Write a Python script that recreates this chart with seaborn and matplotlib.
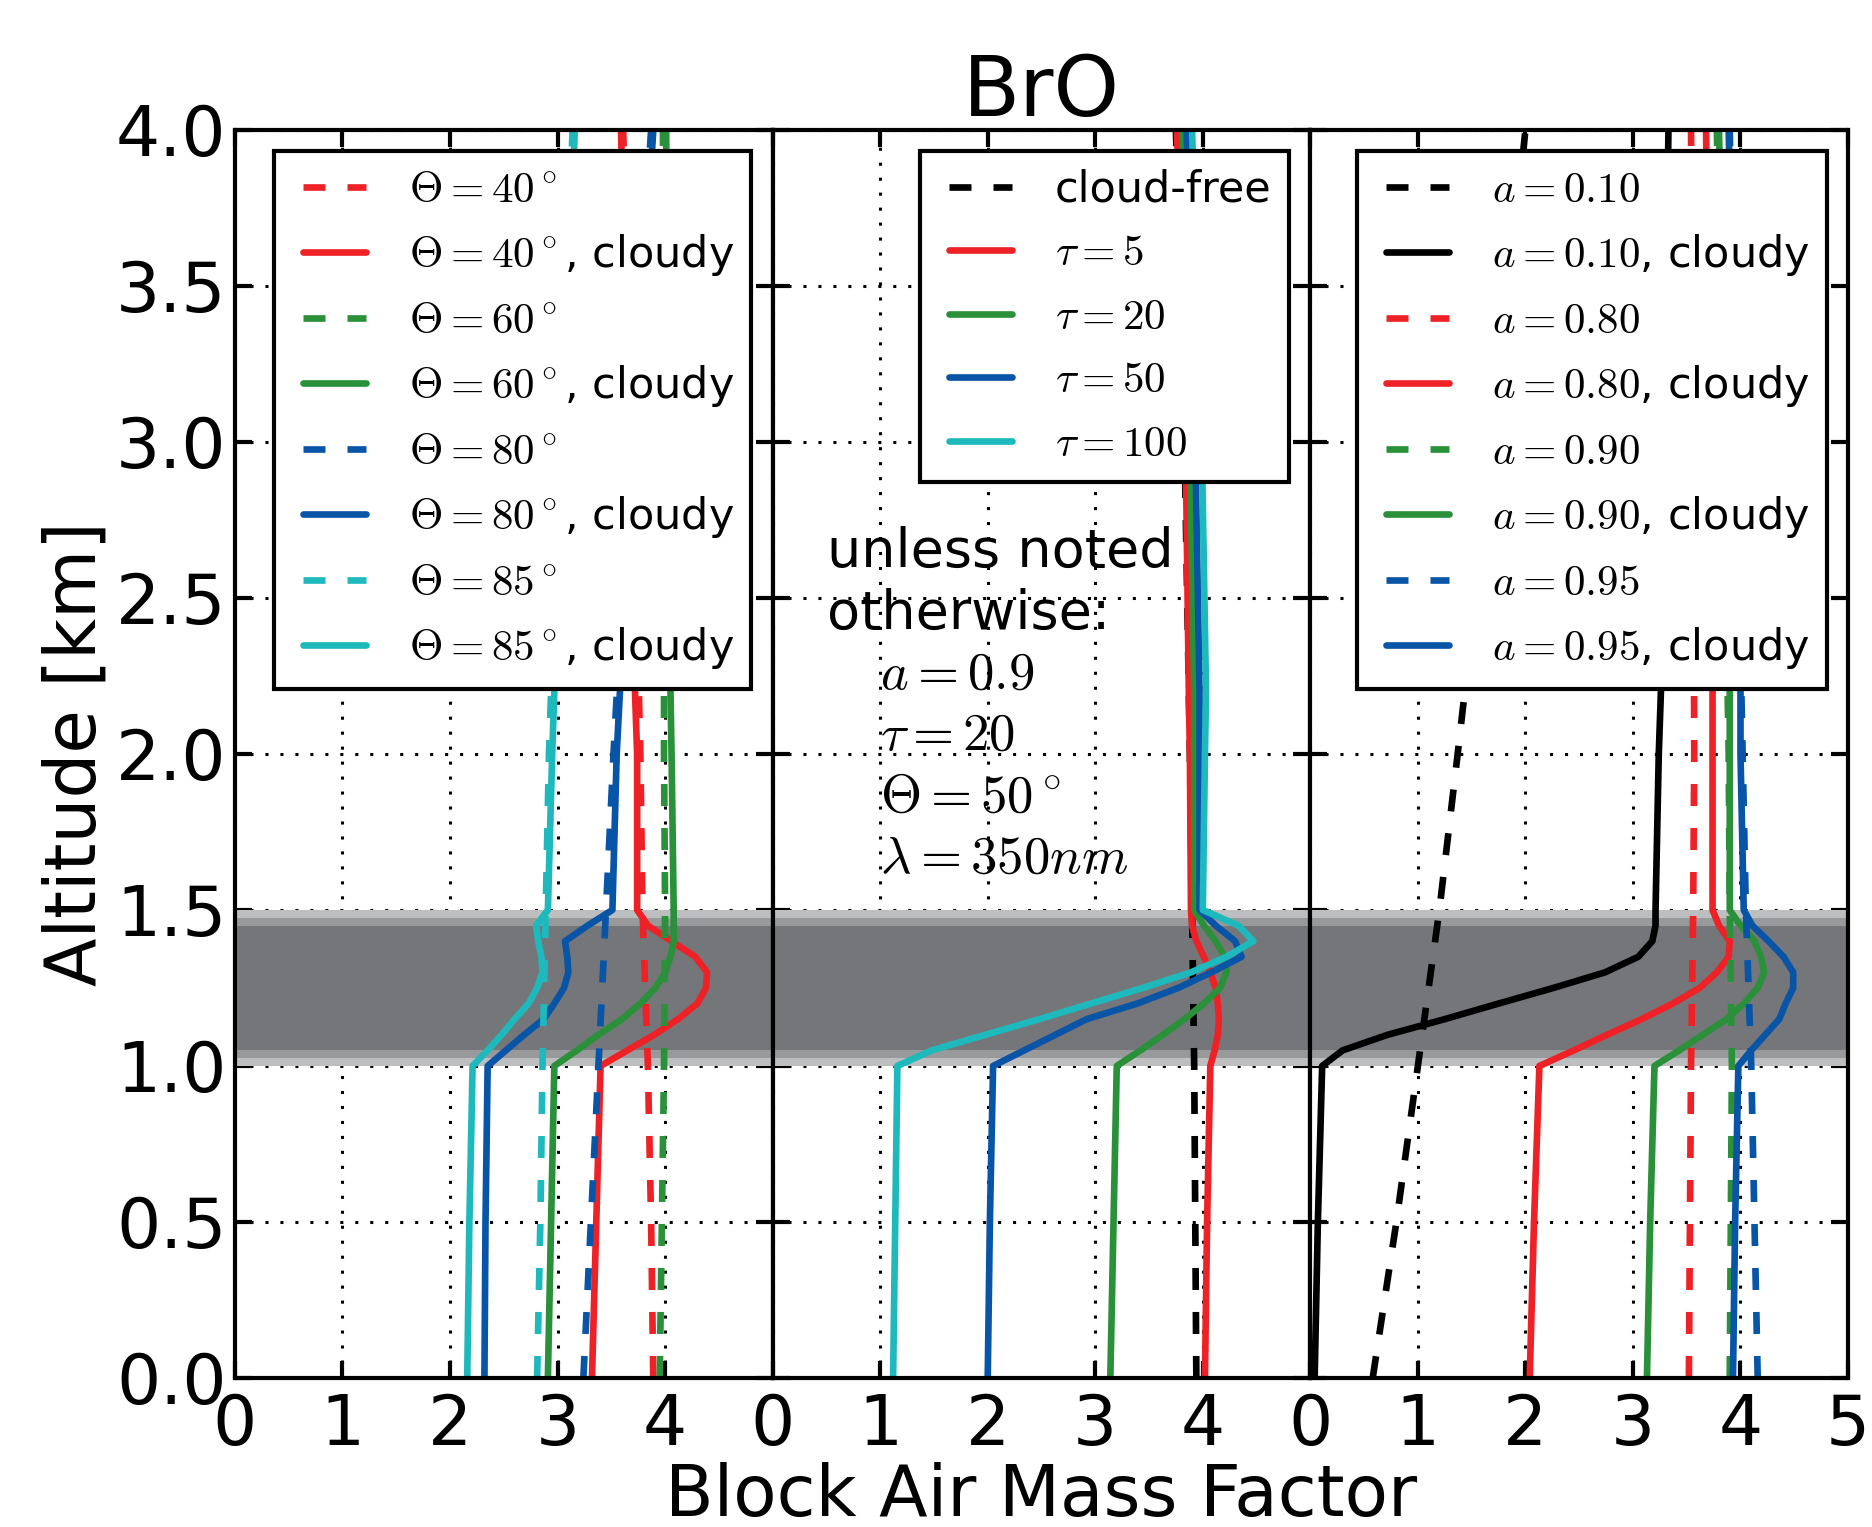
import matplotlib
matplotlib.use('Agg')
import matplotlib.pyplot as plt
from matplotlib.lines import Line2D
from matplotlib.legend_handler import HandlerLine2D
import seaborn as sns

# altitude grids [km]
alt_clear = [0.0, 0.5, 1.0, 1.5, 2.0, 3.0, 4.0]
alt_cloud = [0.0, 0.5, 1.0, 1.05, 1.1, 1.15, 1.2, 1.25, 1.3, 1.35, 1.4, 1.45, 1.5, 2.0, 2.2, 3.0, 4.0]
cloud_bottom, cloud_top = 1.0, 1.5

# left panel: solar zenith angle
sza_values = ['40', '60', '80', '85']
sza40_clear = [3.89, 3.87, 3.84, 3.79, 3.77, 3.70, 3.61]
sza60_clear = [3.95, 3.97, 3.99, 4.00, 3.99, 3.99, 3.98]
sza80_clear = [3.24, 3.31, 3.38, 3.45, 3.52, 3.68, 3.87]
sza85_clear = [2.81, 2.84, 2.86, 2.89, 2.92, 3.02, 3.14]
sza40_cloud = [3.32, 3.36, 3.40, 3.65, 3.90, 4.12, 4.30, 4.38, 4.39, 4.28, 4.06, 3.84, 3.74, 3.74, 3.72, 3.66, 3.59]
sza60_cloud = [2.91, 2.94, 2.97, 3.18, 3.38, 3.60, 3.77, 3.91, 4.00, 4.05, 4.08, 4.08, 4.08, 4.06, 4.05, 4.03, 4.01]
sza80_cloud = [2.32, 2.33, 2.35, 2.52, 2.69, 2.87, 2.97, 3.06, 3.10, 3.09, 3.07, 3.28, 3.51, 3.55, 3.58, 3.72, 3.89]
sza85_cloud = [2.16, 2.18, 2.21, 2.35, 2.48, 2.60, 2.73, 2.81, 2.86, 2.85, 2.82, 2.80, 2.91, 2.95, 2.97, 3.06, 3.16]

# middle panel: cloud optical thickness
tau_values = ['5', '20', '50', '100']
cloudfree = [3.94, 3.93, 3.92, 3.90, 3.88, 3.83, 3.75]
tau5 = [4.02, 4.04, 4.07, 4.11, 4.14, 4.15, 4.14, 4.12, 4.07, 4.01, 3.94, 3.90, 3.89, 3.88, 3.87, 3.84, 3.76]
tau20 = [3.14, 3.17, 3.20, 3.42, 3.63, 3.83, 4.01, 4.16, 4.22, 4.20, 4.12, 4.01, 3.92, 3.92, 3.92, 3.88, 3.81]
tau50 = [2.00, 2.02, 2.05, 2.34, 2.63, 2.92, 3.39, 3.77, 4.08, 4.36, 4.30, 4.12, 3.97, 3.97, 3.97, 3.93, 3.85]
tau100 = [1.12, 1.14, 1.16, 1.48, 1.98, 2.48, 2.96, 3.44, 3.89, 4.22, 4.47, 4.33, 4.00, 4.02, 4.03, 3.99, 3.90]

# right panel: surface albedo
alb_values = ['0.10', '0.80', '0.90', '0.95']
alb010_clear = [0.58, 0.80, 1.00, 1.20, 1.37, 1.70, 2.00]
alb080_clear = [3.52, 3.53, 3.54, 3.56, 3.57, 3.56, 3.54]
alb090_clear = [3.90, 3.91, 3.92, 3.90, 3.89, 3.84, 3.78]
alb095_clear = [4.16, 4.13, 4.10, 4.05, 4.02, 3.96, 3.90]
alb010_cloud = [0.04, 0.07, 0.11, 0.30, 0.72, 1.25, 1.75, 2.26, 2.74, 3.05, 3.18, 3.21, 3.21, 3.24, 3.26, 3.29, 3.33]
alb080_cloud = [2.04, 2.08, 2.13, 2.45, 2.76, 3.08, 3.37, 3.62, 3.78, 3.89, 3.90, 3.80, 3.74, 3.74, 3.74, 3.71, 3.68]
alb090_cloud = [3.13, 3.16, 3.20, 3.43, 3.65, 3.87, 4.03, 4.16, 4.22, 4.19, 4.13, 4.00, 3.90, 3.90, 3.90, 3.86, 3.80]
alb095_cloud = [3.93, 3.95, 3.98, 4.10, 4.23, 4.36, 4.42, 4.49, 4.49, 4.40, 4.26, 4.11, 4.03, 4.00, 4.00, 3.95, 3.89]

xticks_left = [0, 1, 2, 3, 4]
xticks_right = [0, 1, 2, 3, 4, 5]
yticks = [0.0, 0.5, 1.0, 1.5, 2.0, 2.5, 3.0, 3.5, 4.0]

RED, GREEN, BLUE, CYAN = '#ee2226', '#2a913a', '#0854a6', '#1eb9bc'
LW = 2.4
DASH = (0, (3.3, 3.3))

sns.set_style('ticks')
plt.rcParams['font.family'] = ['DejaVu Sans']
plt.rcParams['mathtext.fontset'] = 'cm'
plt.rcParams['axes.linewidth'] = 1.5
plt.rcParams['axes.edgecolor'] = 'k'
plt.rcParams['text.color'] = 'k'
plt.rcParams['axes.labelcolor'] = 'k'
plt.rcParams['xtick.color'] = 'k'
plt.rcParams['ytick.color'] = 'k'


def profile(ax, bamf, alt, color, dashed, label):
    sns.lineplot(x=bamf, y=alt, ax=ax, color=color, linewidth=LW,
                 linestyle=DASH if dashed else '-', sort=False,
                 estimator=None, label=label)


fig, axes = plt.subplots(1, 3, sharey=True, figsize=(9.36, 7.635), dpi=200)
fig.subplots_adjust(left=0.1255, right=0.9872, top=0.9149, bottom=0.0976, wspace=0)
ax1, ax2, ax3 = axes

#cloud layer shading, three shades
for ax in axes:
    ax.axhspan(cloud_bottom, cloud_top, color='#bdbec0', lw=0, zorder=1)
    ax.axhspan(cloud_bottom + 0.025, cloud_top - 0.025, color='#98999b', lw=0, zorder=1)
    ax.axhspan(cloud_bottom + 0.05, cloud_top - 0.05, color='#75767a', lw=0, zorder=1)

# panel 1
colors = [RED, GREEN, BLUE, CYAN]
sza_clear = [sza40_clear, sza60_clear, sza80_clear, sza85_clear]
sza_cloud = [sza40_cloud, sza60_cloud, sza80_cloud, sza85_cloud]
for val, c, clr, cld in zip(sza_values, colors, sza_clear, sza_cloud):
    profile(ax1, clr, alt_clear, c, True, r'$\Theta=%s^\circ$' % val)
    profile(ax1, cld, alt_cloud, c, False, r'$\Theta=%s^\circ$, cloudy' % val)

# panel 2
profile(ax2, cloudfree, alt_clear, 'k', True, 'cloud-free')
for val, c, cld in zip(tau_values, colors, [tau5, tau20, tau50, tau100]):
    profile(ax2, cld, alt_cloud, c, False, r'$\tau=%s$' % val)

# panel 3
alb_colors = ['k', RED, GREEN, BLUE]
alb_clear = [alb010_clear, alb080_clear, alb090_clear, alb095_clear]
alb_cloud = [alb010_cloud, alb080_cloud, alb090_cloud, alb095_cloud]
for val, c, clr, cld in zip(alb_values, alb_colors, alb_clear, alb_cloud):
    profile(ax3, clr, alt_clear, c, True, r'$a=%s$' % val)
    profile(ax3, cld, alt_cloud, c, False, r'$a=%s$, cloudy' % val)

for ax, xt in zip(axes, [xticks_left, xticks_left, xticks_right]):
    ax.set_xlim(0, 5)
    ax.set_ylim(0, 4)
    ax.set_xticks(xt)
    ax.set_yticks(yticks)
    ax.set_xlabel('')
    ax.set_ylabel('')
    ax.grid(True, color='k', linestyle=(0, (1, 3.9)), linewidth=1.1)
    ax.tick_params(direction='in', length=6, width=1.5, top=True, right=True,
                   labelsize=25, colors='k')
    ax.tick_params(axis='x', pad=5)
    ax.tick_params(axis='y', pad=3)
    for sp in ax.spines.values():
        sp.set_visible(True)
        sp.set_linewidth(1.5)
    # xpad shifts the handle right, like the older legend layout
    leg = ax.legend(loc='upper right', fontsize=15.5, handlelength=1.73,
                    handletextpad=1.0, fancybox=False, framealpha=1,
                    edgecolor='k', borderaxespad=0.5,
                    handler_map={Line2D: HandlerLine2D(xpad=0.28)})
    leg.get_frame().set_linewidth(1.5)

ax1.set_yticklabels(['%.1f' % v for v in yticks])
ax1.set_ylabel('Altitude [km]', fontsize=25.5, labelpad=2)
ax2.set_xlabel('Block Air Mass Factor', fontsize=25.5, labelpad=1)
ax2.set_title('BrO', fontsize=30, pad=5)

ax2.text(0.51, 2.60, 'unless noted', fontsize=19.5, va='baseline')
ax2.text(0.51, 2.40, 'otherwise:', fontsize=19.5, va='baseline')
notes = [r'$a=0.9$', r'$\tau=20$', r'$\Theta=50^\circ$', r'$\lambda=350nm$']
for k, s in enumerate(notes):
    ax2.text(1.0, 2.21 - 0.197 * k, s, fontsize=19, va='baseline')

fig.savefig('out.png', dpi=200)
